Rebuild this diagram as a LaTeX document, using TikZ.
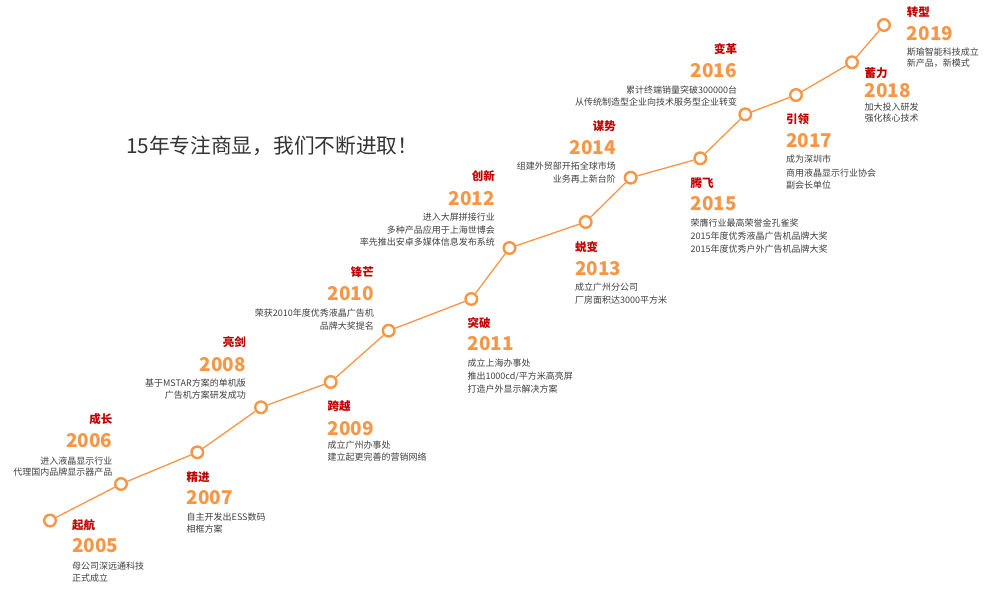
\documentclass[tikz,border=0pt]{standalone}
\usepackage{fontspec}
\setmainfont{Noto Sans CJK SC}
\definecolor{orng}{HTML}{F79646}
\definecolor{rd}{HTML}{C00000}
\definecolor{gry}{HTML}{404040}
\definecolor{hd}{HTML}{333333}
\tikzset{
  dot/.style={circle,draw=orng,fill=white,line width=2.4pt,minimum size=11.6pt,inner sep=0pt},
  link/.style={draw=orng,line width=1.3pt},
  ttl/.style={text=rd,font=\fontsize{11.5}{12}\selectfont\bfseries,inner sep=0pt},
  yr/.style={text=orng,font=\fontsize{19}{20}\selectfont\bfseries,inner sep=0pt},
  dsc/.style={text=gry,font=\fontsize{9}{10}\selectfont,inner sep=0pt},
  L/.style={anchor=base west},
  R/.style={anchor=base east},
}
\begin{document}
\begin{tikzpicture}[x=1pt,y=-1pt]
\useasboundingbox (0,0) rectangle (1000,590);
\fill[white] (0,0) rectangle (1000,590);
% circles
\node[dot] (c05) at (50,520.5) {};
\node[dot] (c06) at (121,484) {};
\node[dot] (c07) at (197.3,452.3) {};
\node[dot] (c08) at (261,407.3) {};
\node[dot] (c09) at (330.7,382) {};
\node[dot] (c10) at (388.7,330.7) {};
\node[dot] (c11) at (471.3,299) {};
\node[dot] (c12) at (509.5,248) {};
\node[dot] (c13) at (585.7,222) {};
\node[dot] (c14) at (630.7,177.7) {};
\node[dot] (c15) at (700.3,158.3) {};
\node[dot] (c16) at (745.3,114.3) {};
\node[dot] (c17) at (796,95) {};
\node[dot] (c18) at (852,62.3) {};
\node[dot] (c19) at (884,25) {};
\path[link] (c05)--(c06) (c06)--(c07) (c07)--(c08) (c08)--(c09) (c09)--(c10)
  (c10)--(c11) (c11)--(c12) (c12)--(c13) (c13)--(c14) (c14)--(c15)
  (c15)--(c16) (c16)--(c17) (c17)--(c18) (c18)--(c19);
% heading
\node[anchor=base west,inner sep=0pt,text=hd,font=\fontsize{20.7}{22}\selectfont] (head) at (126,153.5) {15年专注商显，我们不断进取！};
% 2005
\node[ttl,L] (t05) at (72,529.4) {起航};
\node[yr,L] (y05) at (72,552.5) {2005};
\node[dsc,L] (d05a) at (72,569.1) {母公司深远通科技};
\node[dsc,L] (d05b) at (72,581.1) {正式成立};
% 2006
\node[ttl,R] (t06) at (112.5,423.4) {成长};
\node[yr,R] (y06) at (112.5,447.5) {2006};
\node[dsc,R] (d06a) at (112.5,464.1) {进入液晶显示行业};
\node[dsc,R] (d06b) at (112.5,475.9) {代理国内品牌显示器产品};
% 2007
\node[ttl,L] (t07) at (186.5,481.1) {精进};
\node[yr,L] (y07) at (186.5,504.8) {2007};
\node[dsc,L] (d07a) at (186.5,520.1) {自主开发出ESS数码};
\node[dsc,L] (d07b) at (186.5,532.7) {相框方案};
% 2008
\node[ttl,R] (t08) at (246,346.1) {亮剑};
\node[yr,R] (y08) at (246,371.1) {2008};
\node[dsc,R] (d08a) at (246,386.7) {基于MSTAR方案的单机版};
\node[dsc,R] (d08b) at (246,398.4) {广告机方案研发成功};
% 2009
\node[ttl,L] (t09) at (327.3,410.1) {跨越};
\node[yr,L] (y09) at (327.3,435.1) {2009};
\node[dsc,L] (d09a) at (327.3,448.4) {成立广州办事处};
\node[dsc,L] (d09b) at (327.3,460.9) {建立起更完善的营销网络};
% 2010
\node[ttl,R] (t10) at (374,276.7) {锋芒};
\node[yr,R] (y10) at (374,300.1) {2010};
\node[dsc,R] (d10a) at (374,316.1) {荣获2010年度优秀液晶广告机};
\node[dsc,R] (d10b) at (374,329.1) {品牌大奖提名};
% 2011
\node[ttl,L] (t11) at (467.3,327.7) {突破};
\node[yr,L] (y11) at (467.3,350.1) {2011};
\node[dsc,L] (d11a) at (467.3,366.7) {成立上海办事处};
\node[dsc,L] (d11b) at (467.3,379.4) {推出1000cd/平方米高亮屏};
\node[dsc,L] (d11c) at (467.3,392.7) {打造户外显示解决方案};
% 2012
\node[ttl,R] (t12) at (495,180.4) {创新};
\node[yr,R] (y12) at (495,205.1) {2012};
\node[dsc,R] (d12a) at (495,220.7) {进入大屏拼接行业};
\node[dsc,R] (d12b) at (495,233.4) {多种产品应用于上海世博会};
\node[dsc,R] (d12c) at (495,245.1) {率先推出安卓多媒体信息发布系统};
% 2013
\node[ttl,L] (t13) at (575,251.7) {蜕变};
\node[yr,L] (y13) at (575,275.1) {2013};
\node[dsc,L] (d13a) at (575,290.4) {成立广州分公司};
\node[dsc,L] (d13b) at (575,303.7) {厂房面积达3000平方米};
% 2014
\node[ttl,R] (t14) at (616,130.4) {谋势};
\node[yr,R] (y14) at (616,154.1) {2014};
\node[dsc,R] (d14a) at (616,169.4) {组建外贸部开拓全球市场};
\node[dsc,R] (d14b) at (616,182.1) {业务再上新台阶};
% 2015
\node[ttl,L] (t15) at (690.5,187.7) {腾飞};
\node[yr,L] (y15) at (690.5,210.8) {2015};
\node[dsc,L] (d15a) at (690.5,226.1) {荣膺行业最高荣誉金孔雀奖};
\node[dsc,L] (d15b) at (690.5,239.4) {2015年度优秀液晶广告机品牌大奖};
\node[dsc,L] (d15c) at (690.5,252.1) {2015年度优秀户外广告机品牌大奖};
% 2016
\node[ttl,R] (t16) at (737.3,53.4) {变革};
\node[yr,R] (y16) at (737.3,77.5) {2016};
\node[dsc,R] (d16a) at (737.3,93.4) {累计终端销量突破300000台};
\node[dsc,R] (d16b) at (737.3,105.7) {从传统制造型企业向技术服务型企业转变};
% 2017
\node[ttl,L] (t17) at (786,123.4) {引领};
\node[yr,L] (y17) at (786,147.5) {2017};
\node[dsc,L] (d17a) at (786,162.7) {成为深圳市};
\node[dsc,L] (d17b) at (786,176.1) {商用液晶显示行业协会};
\node[dsc,L] (d17c) at (786,188.4) {副会长单位};
% 2018
\node[ttl,L] (t18) at (864.3,77.7) {蓄力};
\node[yr,L] (y18) at (864.3,97.5) {2018};
\node[dsc,L] (d18a) at (864.3,110.7) {加大投入研发};
\node[dsc,L] (d18b) at (864.3,121.7) {强化核心技术};
% 2019
\node[ttl,L] (t19) at (906.7,16.1) {转型};
\node[yr,L] (y19) at (906.7,40.1) {2019};
\node[dsc,L] (d19a) at (906.7,55.1) {斯瑜智能科技成立};
\node[dsc,L] (d19b) at (906.7,66.7) {新产品，新模式};
\end{tikzpicture}
\end{document}
